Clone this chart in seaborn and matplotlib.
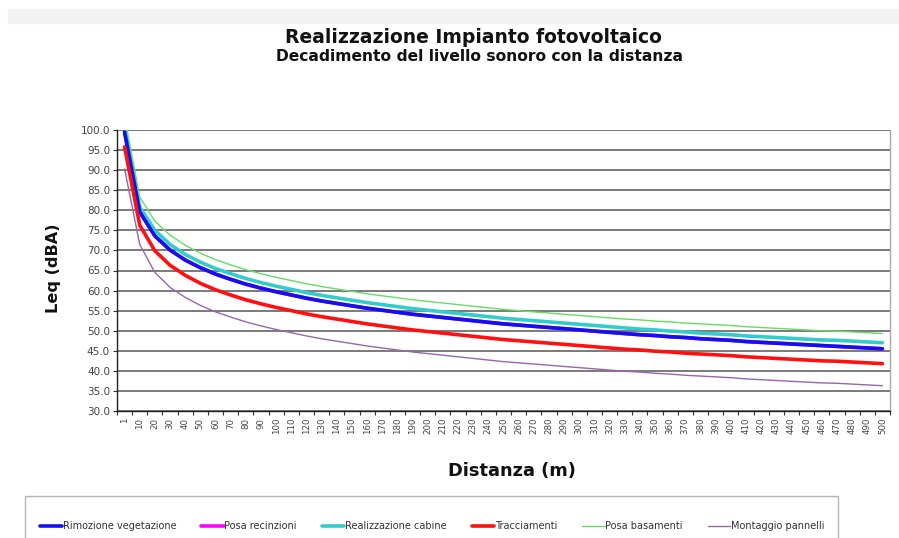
import numpy as np
import pandas as pd
import matplotlib
matplotlib.use("Agg")
import matplotlib.pyplot as plt
import seaborn as sns
from matplotlib.patches import Rectangle
from matplotlib.ticker import FixedLocator, FormatStrFormatter

# Distances (m) used as categories on the x axis
distanza = [1, 10, 20, 30, 40, 50, 60, 70, 80, 90, 100, 110, 120, 130, 140, 150,
            160, 170, 180, 190, 200, 210, 220, 230, 240, 250, 260, 270, 280, 290,
            300, 310, 320, 330, 340, 350, 360, 370, 380, 390, 400, 410, 420, 430,
            440, 450, 460, 470, 480, 490, 500]

# Leq (dBA) for each work phase
rimozione_vegetazione = [99.5, 79.6, 73.6, 70.1, 67.6, 65.7, 64.1, 62.8, 61.6, 60.6, 59.7,
                         58.9, 58.1, 57.4, 56.8, 56.2, 55.6, 55.1, 54.6, 54.1, 53.7, 53.3,
                         52.9, 52.5, 52.1, 51.7, 51.4, 51.1, 50.8, 50.5, 50.2, 49.9, 49.6,
                         49.3, 49.0, 48.8, 48.5, 48.3, 48.0, 47.8, 47.6, 47.3, 47.1, 46.9,
                         46.7, 46.5, 46.3, 46.1, 45.9, 45.7, 45.5]
posa_recinzioni = [99.5, 79.6, 73.6, 70.1, 67.6, 65.7, 64.1, 62.8, 61.6, 60.6, 59.7,
                   58.9, 58.1, 57.4, 56.8, 56.2, 55.6, 55.1, 54.6, 54.1, 53.7, 53.3,
                   52.9, 52.5, 52.1, 51.7, 51.4, 51.1, 50.8, 50.5, 50.2, 49.9, 49.6,
                   49.3, 49.0, 48.8, 48.5, 48.3, 48.0, 47.8, 47.6, 47.3, 47.1, 46.9,
                   46.7, 46.5, 46.3, 46.1, 45.9, 45.7, 45.5]
realizzazione_cabine = [101.0, 80.8, 75.0, 71.5, 69.0, 67.1, 65.5, 64.2, 63.0, 62.0, 61.1,
                        60.3, 59.5, 58.8, 58.2, 57.6, 57.0, 56.5, 56.0, 55.5, 55.1, 54.7,
                        54.3, 53.9, 53.5, 53.1, 52.8, 52.5, 52.2, 51.9, 51.6, 51.3, 51.0,
                        50.7, 50.4, 50.2, 49.9, 49.7, 49.4, 49.2, 49.0, 48.7, 48.5, 48.3,
                        48.1, 47.9, 47.7, 47.6, 47.4, 47.2, 47.0]
tracciamenti = [95.8, 76.3, 69.9, 66.3, 63.8, 61.8, 60.2, 58.9, 57.7, 56.7, 55.8,
                55.0, 54.2, 53.5, 52.9, 52.3, 51.7, 51.2, 50.7, 50.2, 49.8, 49.4,
                49.0, 48.6, 48.2, 47.8, 47.5, 47.2, 46.9, 46.6, 46.3, 46.0, 45.7,
                45.4, 45.2, 44.9, 44.7, 44.4, 44.2, 44.0, 43.8, 43.5, 43.3, 43.1,
                42.9, 42.7, 42.5, 42.4, 42.2, 42.0, 41.8]
posa_basamenti = [103.3, 83.3, 77.3, 73.8, 71.3, 69.3, 67.7, 66.4, 65.2, 64.2, 63.3,
                  62.5, 61.7, 61.0, 60.4, 59.8, 59.2, 58.7, 58.2, 57.7, 57.3, 56.9,
                  56.5, 56.1, 55.7, 55.3, 55.0, 54.7, 54.4, 54.1, 53.8, 53.5, 53.2,
                  52.9, 52.7, 52.4, 52.2, 51.9, 51.7, 51.5, 51.3, 51.0, 50.8, 50.6,
                  50.4, 50.2, 50.0, 49.9, 49.7, 49.5, 49.3]
montaggio_pannelli = [90.3, 71.5, 64.5, 60.8, 58.3, 56.3, 54.7, 53.4, 52.2, 51.2, 50.3,
                      49.5, 48.7, 48.0, 47.4, 46.8, 46.2, 45.7, 45.2, 44.7, 44.3, 43.9,
                      43.5, 43.1, 42.7, 42.3, 42.0, 41.7, 41.4, 41.1, 40.8, 40.5, 40.2,
                      39.9, 39.7, 39.4, 39.2, 38.9, 38.7, 38.5, 38.3, 38.0, 37.8, 37.6,
                      37.4, 37.2, 37.0, 36.9, 36.7, 36.5, 36.3]

y_ticks = [30, 35, 40, 45, 50, 55, 60, 65, 70, 75, 80, 85, 90, 95, 100]

series = [
    ("Rimozione vegetazione", rimozione_vegetazione, "#1010f0", 2.6, 5),
    ("Posa recinzioni", posa_recinzioni, "#ff00ff", 2.6, 3),
    ("Realizzazione cabine", realizzazione_cabine, "#33cccc", 2.6, 4),
    ("Tracciamenti", tracciamenti, "#ff1010", 2.6, 5),
    ("Posa basamenti", posa_basamenti, "#66dd66", 1.0, 4),
    ("Montaggio pannelli", montaggio_pannelli, "#9966aa", 1.0, 4),
]

sns.set_theme(style="white")
plt.rcParams["font.family"] = ["DejaVu Sans"]

fig = plt.figure(figsize=(8.99, 5.38), dpi=100)
ax = fig.add_axes([117 / 899, 1 - 411 / 538, (890 - 117) / 899, (411 - 130) / 538])

pos = np.arange(len(distanza))
for name, vals, color, lw, z in series:
    df = pd.DataFrame({"pos": pos, "Leq": vals})
    sns.lineplot(data=df, x="pos", y="Leq", color=color, linewidth=lw,
                 ax=ax, zorder=z, label=name, legend=False)

ax.set_xlim(-0.5, len(distanza) - 0.5)
ax.set_ylim(30, 100)

# y axis
ax.yaxis.set_major_locator(FixedLocator(y_ticks))
ax.yaxis.set_major_formatter(FormatStrFormatter("%.1f"))
ax.tick_params(axis="y", which="major", length=3, width=0.8, color="#333333",
               labelsize=7.5, labelcolor="#444444", pad=2, left=True)
ax.grid(axis="y", color="#7a7a7a", linewidth=1.4)
ax.grid(axis="x", visible=False)

# x axis: labels at category centres, tick marks at category boundaries
ax.set_xticks(pos)
ax.set_xticklabels([str(d) for d in distanza], rotation=90, fontsize=6.2,
                   color="#444444")
ax.tick_params(axis="x", which="major", length=0, pad=5)
ax.set_xticks(np.arange(len(distanza) + 1) - 0.5, minor=True)
ax.tick_params(axis="x", which="minor", length=3, width=0.8, color="#333333",
               bottom=True)

for s in ["left", "bottom"]:
    ax.spines[s].set_color("#222222")
    ax.spines[s].set_linewidth(1.0)
ax.spines["top"].set_visible(False)
ax.spines["right"].set_color("#aaaaaa")
ax.spines["right"].set_linewidth(1.0)

ax.set_ylabel("Leq (dBA)", fontsize=11.6, fontweight="bold", color="#111111")
ax.yaxis.set_label_coords((61 - 117) / 773, (411 - 268) / 281)
ax.set_xlabel("Distanza (m)", fontsize=12.8, fontweight="bold", color="#111111")
ax.xaxis.set_label_coords((512 - 117) / 773, (411 - 462) / 281)

# titles
fig.add_artist(Rectangle((8 / 899, 1 - 23 / 538), 891 / 899, 14 / 538,
                         transform=fig.transFigure, color="#f3f3f3", zorder=0))
fig.text(473 / 899, 1 - 43 / 538, "Realizzazione Impianto fotovoltaico", ha="center",
         va="baseline", fontsize=13.5, fontweight="bold", color="#111111")
fig.text(480 / 899, 1 - 61 / 538, "Decadimento del livello sonoro con la distanza",
         ha="center", va="baseline", fontsize=11.2, fontweight="bold", color="#111111")

# legend box and entries
fig.add_artist(Rectangle((25 / 899, -0.1), (838 - 25) / 899, 0.1 + 42 / 538,
                         transform=fig.transFigure, fill=False,
                         edgecolor="#b5b5b5", linewidth=1.0))
h, l = ax.get_legend_handles_labels()
fig.legend(h, l, ncol=6, loc="center", bbox_to_anchor=(432 / 899, 1 - 526 / 538),
           frameon=False, fontsize=7, handlelength=2.3, handletextpad=0.05,
           columnspacing=2.6, labelcolor="#333333")

fig.savefig("out.png", dpi=100)
